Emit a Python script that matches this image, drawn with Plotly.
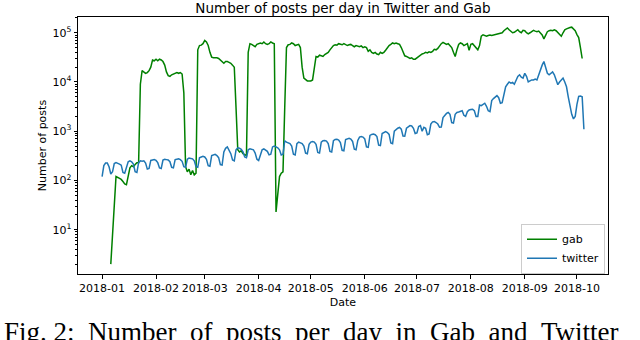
import pandas as pd
import plotly.graph_objects as go

# ---------------- data ----------------
twitter_start = "2018-01-01"
twitter_posts = [
    120, 200, 225, 225, 190, 135, 150,
    220, 230, 225, 215, 205, 145, 140,
    190, 240, 250, 240, 215, 150, 145,
    230, 250, 245, 250, 225, 170, 175,
    255, 260, 265, 255, 230, 180, 175,
    260, 270, 265, 260, 240, 185, 180,
    265, 270, 275, 265, 245, 190, 185,
    270, 285, 280, 275, 250, 190, 185,
    290, 300, 310, 300, 270, 200, 195,
    320, 330, 340, 320, 290, 210, 205,
    380, 450, 480, 420, 350, 260, 250,
    420, 460, 450, 430, 380, 300, 290,
    420, 440, 430, 420, 360, 270, 255,
    350, 420, 440, 420, 390, 330, 340,
    480, 500, 480, 460, 420, 330, 340,
    640, 600, 580, 560, 500, 340, 330,
    560, 600, 590, 560, 500, 360, 350,
    540, 600, 620, 600, 540, 370, 360,
    600, 640, 650, 630, 560, 390, 380,
    640, 680, 690, 660, 590, 410, 400,
    680, 700, 720, 690, 620, 430, 420,
    650, 760, 780, 760, 700, 480, 470,
    820, 860, 880, 850, 780, 520, 510,
    900, 950, 980, 940, 860, 580, 560,
    1000, 1100, 1150, 1200, 1100, 800, 790,
    1150, 1250, 1300, 1280, 1150, 900, 920,
    1250, 1300, 1000, 1200, 1150, 850, 880,
    1400, 1550, 1580, 1500, 1400, 1200, 1210,
    1900, 2100, 2300, 2400, 2200, 1500, 1460,
    2200, 2400, 2450, 2550, 2600, 2100, 2000,
    2500, 2700, 2750, 2800, 2600, 2000, 2000,
    3400, 3300, 3500, 3700, 3200, 2600, 2500,
    4200, 4600, 5000, 5300, 4800, 3700, 3800,
    6000, 8000, 9000, 10000, 9500, 9800, 9000,
    11000, 13000, 14000, 12500, 12000, 15000, 13000,
    10000, 10500, 11000, 11000, 11500, 11000, 14000,
    18000, 22000, 26000, 20000, 15000, 14000, 15000,
    16000, 14000, 11000, 8800, 10000, 11000, 12000,
    10000, 8000, 5000, 3200, 2200, 1780, 2000,
    3500, 5100, 5200, 5000, 1100,
]

gab_start = "2018-01-06"
gab_posts = [
    2, 8, 35, 120, 115, 110, 105, 95, 85, 82,
    120, 180, 200, 190, 210, 230, 230, 9000, 17000, 16000,
    15000, 15500, 17000, 20000, 28000, 27000, 29000, 27000, 29000, 28000,
    26000, 22000, 16000, 13500, 13000, 14000, 14500, 15000, 15500, 15000,
    15500, 14500, 6000, 190, 150, 170, 130, 160, 130, 140,
    45000, 55000, 56000, 60000, 70000, 65000, 55000, 40000, 32000, 31000,
    31500, 31000, 30000, 28000, 25000, 24000, 26000, 26000, 25000, 24000,
    22000, 20000, 3000, 420, 380, 400, 350, 330, 320, 40000,
    60000, 58000, 55000, 52000, 58000, 60000, 62000, 60000, 65000, 60000,
    58000, 60000, 65000, 62000, 60000, 23, 50, 120, 140, 150,
    3000, 50000, 57000, 58000, 62000, 60000, 55000, 56000, 58000, 50000,
    20000, 12000, 11000, 10500, 10500, 10500, 11000, 20000, 33000, 32000,
    35000, 34000, 33000, 36000, 38000, 40000, 45000, 50000, 55000, 57000,
    56000, 60000, 58000, 57000, 60000, 58000, 55000, 57000, 58000, 55000,
    52000, 55000, 53000, 52000, 54000, 50000, 52000, 50000, 42000, 45000,
    40000, 38000, 40000, 37000, 36000, 40000, 38000, 40000, 44000, 50000,
    55000, 58000, 62000, 60000, 62000, 60000, 58000, 50000, 40000, 34000,
    33000, 31000, 30000, 31000, 29000, 29000, 31000, 33000, 35000, 37000,
    38000, 40000, 39000, 41000, 40000, 42000, 46000, 45000, 48000, 55000,
    60000, 64000, 60000, 58000, 60000, 55000, 50000, 40000, 33000, 45000,
    58000, 62000, 60000, 55000, 58000, 60000, 44000, 58000, 60000, 55000,
    50000, 45000, 55000, 85000, 91000, 88000, 85000, 88000, 90000, 88000,
    90000, 93000, 95000, 94000, 96000, 100000, 110000, 118000, 125000, 115000,
    105000, 100000, 102000, 110000, 115000, 105000, 100000, 112000, 110000, 100000,
    95000, 100000, 108000, 112000, 108000, 105000, 108000, 100000, 90000, 75000,
    90000, 105000, 110000, 112000, 110000, 115000, 110000, 100000, 95000, 85000,
    100000, 115000, 120000, 125000, 128000, 130000, 120000, 110000, 92000, 80000,
    50000, 30000,
]

y_tick_values = [10, 100, 1000, 10000, 100000]
y_tick_labels = ["10<sup>1</sup>", "10<sup>2</sup>", "10<sup>3</sup>",
                 "10<sup>4</sup>", "10<sup>5</sup>"]

title_text = "Number of posts per day in Twitter and Gab"
x_label = "Date"
y_label = "Number of posts"
caption_words = ["Fig. 2:", "Number", "of", "posts", "per", "day", "in", "Gab", "and", "Twitter"]

# ---------------- figure ----------------
tw_dates = pd.date_range(twitter_start, periods=len(twitter_posts), freq="D")
gab_dates = pd.date_range(gab_start, periods=len(gab_posts), freq="D")

fig = go.Figure()
fig.add_trace(go.Scatter(x=gab_dates, y=gab_posts, mode="lines", name="gab",
                         line=dict(color="#008000", width=1.5)))
fig.add_trace(go.Scatter(x=tw_dates, y=twitter_posts, mode="lines", name="twitter",
                         line=dict(color="#1f77b4", width=1.5)))

L, R, T, B = 78, 32, 17, 66
W, H = 640, 340
ph = H - T - B
pw = W - L - R

fig.update_layout(
    width=W, height=H,
    margin=dict(l=L, r=R, t=T, b=B, pad=0),
    paper_bgcolor="white", plot_bgcolor="white",
    font=dict(family="DejaVu Sans", size=11, color="black"),
    title=dict(text=title_text, x=0.5, xref="paper", xanchor="center",
               y=1 - 8 / H, yanchor="middle", font=dict(size=13.5, color="black")),
    showlegend=True,
    legend=dict(x=(605 - L) / pw, y=(H - B - 248.7) / ph, xanchor="right", yanchor="middle",
                bordercolor="#cccccc", borderwidth=1, bgcolor="rgba(255,255,255,0.8)",
                font=dict(size=11), itemwidth=30, tracegroupgap=0),
    xaxis=dict(type="date", range=["2017-12-18 03:36", "2018-10-18 20:24"],
               tickformat="%Y-%m", dtick="M1", tick0="2018-01-01",
               ticks="outside", ticklen=3.5, tickwidth=1, tickcolor="black",
               showline=True, linecolor="black", linewidth=1, mirror=True,
               showgrid=False, zeroline=False,
               title=dict(text=x_label, standoff=4, font=dict(size=11))),
    yaxis=dict(type="log", range=[0.10, 5.32],
               tickmode="array", tickvals=y_tick_values, ticktext=y_tick_labels,
               ticks="outside", ticklen=3.5, tickwidth=1, tickcolor="black",
               minor=dict(ticks="outside", ticklen=2, dtick="D1", tickcolor="black",
                          showgrid=False),
               showline=True, linecolor="black", linewidth=1, mirror=True,
               showgrid=False, zeroline=False,
               title=dict(text=y_label, standoff=3, font=dict(size=11))),
)

fig.add_annotation(text="\u2002".join(caption_words), xref="paper", yref="paper",
                   x=(2 - L) / pw, y=(H - B - 315) / ph, xanchor="left", yanchor="top",
                   showarrow=False, font=dict(family="Liberation Serif", size=27, color="black"))

fig.write_html("out.html", config={"displayModeBar": False},
               post_script="document.body.style.margin='0';")
